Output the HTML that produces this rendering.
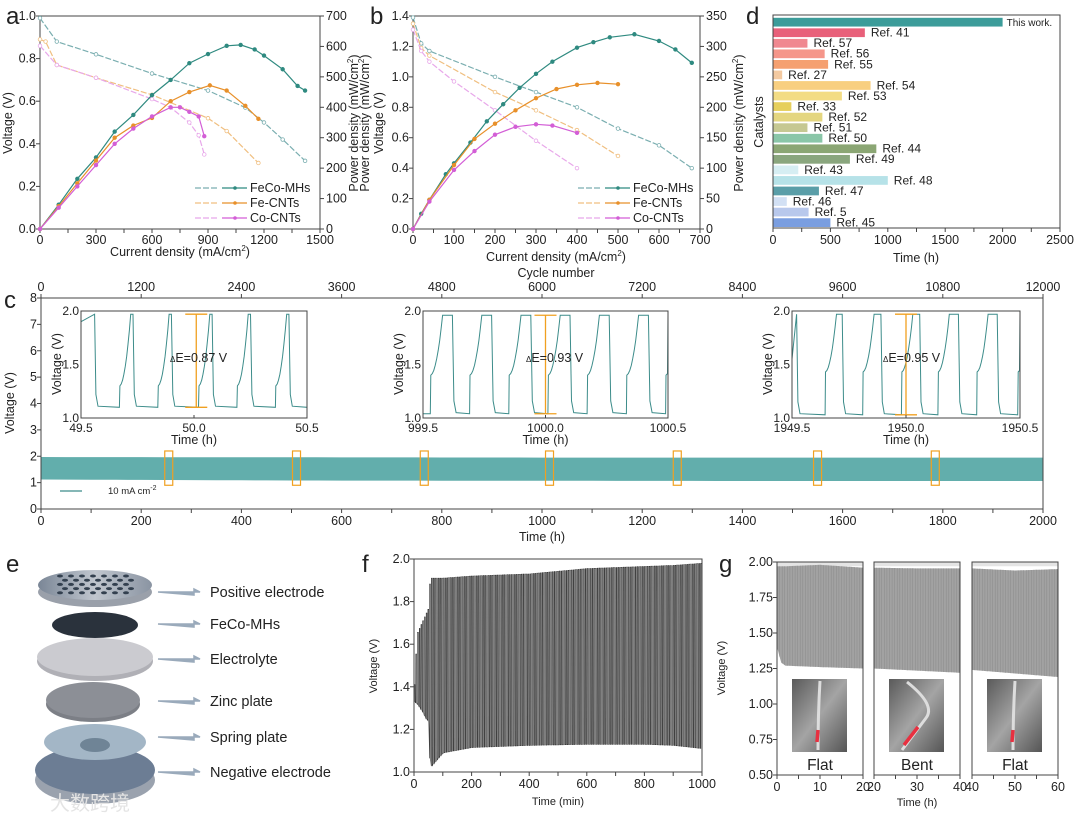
<!DOCTYPE html>
<html><head><meta charset="utf-8">
<style>
html,body{margin:0;padding:0;background:#fff;}
svg{display:block;font-family:"Liberation Sans","Noto Sans CJK SC",sans-serif;}
text{fill:#222;}
</style></head>
<body>
<svg id="fig" width="1080" height="823" viewBox="0 0 1080 823" xmlns="http://www.w3.org/2000/svg">
<defs>
<linearGradient id="photo" x1="0" x2="1" y1="0" y2="1"><stop offset="0" stop-color="#5a5a5a"/><stop offset="0.5" stop-color="#a4a4a4"/><stop offset="1" stop-color="#555"/></linearGradient>
<linearGradient id="disc" x1="0" x2="1"><stop offset="0" stop-color="#7a8696"/><stop offset="0.5" stop-color="#c0c6ce"/><stop offset="1" stop-color="#8a94a2"/></linearGradient>
</defs>
</svg>
<script>
// ===== Panel a data =====
const aFeCoVx=[0,90,300,600,900,1100,1200,1300,1420];
const aFeCoVy=[0.99,0.88,0.82,0.73,0.65,0.57,0.50,0.42,0.32];
const aFeCoPx=[0,100,200,300,400,500,600,700,800,900,1000,1075,1150,1200,1300,1380,1420];
const aFeCoPy=[0,80,165,235,320,375,440,490,545,575,602,605,590,570,525,470,455];
const aFeVx=[0,30,90,300,600,900,1000,1170];
const aFeVy=[0.89,0.88,0.77,0.71,0.63,0.52,0.46,0.31];
const aFePx=[0,100,200,300,400,500,600,700,800,910,1000,1100,1170];
const aFePy=[0,75,150,225,300,340,365,420,450,472,455,405,362];
const aCoVx=[0,90,300,600,700,800,850,880];
const aCoVy=[0.86,0.77,0.71,0.61,0.57,0.50,0.44,0.35];
const aCoPx=[0,100,200,300,400,500,600,700,750,800,850,880];
const aCoPy=[0,70,140,210,280,330,370,400,400,385,370,305];
// ===== Panel b data =====
const bFeCoVx=[0,20,40,200,300,400,500,600,680];
const bFeCoVy=[1.39,1.22,1.17,1.00,0.90,0.80,0.66,0.55,0.40];
const bFeCoPx=[0,20,40,80,100,140,180,220,260,300,340,400,440,480,540,600,640,680];
const bFeCoPy=[0,25,48,90,108,142,177,205,232,255,275,298,307,315,320,309,295,273];
const bFeVx=[0,20,40,200,300,400,500];
const bFeVy=[1.35,1.19,1.14,0.90,0.78,0.65,0.48];
const bFePx=[0,40,100,150,200,250,300,350,400,450,500];
const bFePy=[0,48,105,148,173,195,215,230,237,240,238];
const bCoVx=[0,20,40,100,200,300,400];
const bCoVy=[1.31,1.17,1.10,0.97,0.78,0.58,0.40];
const bCoPx=[0,40,100,150,200,250,300,340,400];
const bCoPy=[0,45,97,128,155,168,172,170,158];
// ===== Panel d data =====
const dLabels=["This work.","Ref. 41","Ref. 57","Ref. 56","Ref. 55","Ref. 27","Ref. 54","Ref. 53","Ref. 33","Ref. 52","Ref. 51","Ref. 50","Ref. 44","Ref. 49","Ref. 43","Ref. 48","Ref. 47","Ref. 46","Ref. 5","Ref. 45"];
const dValues=[2000,800,300,450,480,80,850,600,160,430,300,430,900,670,220,1000,400,120,310,500];
const dColors=["#3c9c9a","#e8607a","#f08890","#f5968a","#f5a070","#f3c9a0","#f8cf80","#f3dc84","#e6cf5c","#e4d680","#c6c892","#8ac6a8","#8ba674","#8aa67e","#d6eef3","#b6e2e8","#5a9ea8","#d2e0f4","#b8c8ec","#7a9ee0"];
const dTicks=[0,500,1000,1500,2000,2500];
// ===== Panel c data =====
const cBandHours=[0,500,1000,1500,2000];
const cBandHigh=[1.97,1.96,1.95,1.95,1.95];
const cBandLow=[1.12,1.08,1.07,1.06,1.06];
const cBoxHours=[255,510,765,1015,1270,1550,1785];
const cTicks=[0,200,400,600,800,1000,1200,1400,1600,1800,2000];
const cTopTicks=[0,1200,2400,3600,4800,6000,7200,8400,9600,10800,12000];
const cYTicks=[0,1,2,3,4,5,6,7,8];
const in1Rises=[49.67,49.84,50.02,50.19,50.36,50.5];
const in1Falls=[49.56,49.73,49.90,50.08,50.25,50.42];
const in2Rises=[999.53,999.69,999.85,1000.01,1000.17,1000.33,1000.49];
const in2Falls=[999.62,999.78,999.94,1000.10,1000.26,1000.42];
const in3Rises=[1949.645,1949.81,1949.98,1950.14,1950.31,1950.49];
const in3Falls=[1949.52,1949.72,1949.89,1950.06,1950.23,1950.40];
const inDeltaE=["0.87","0.93","0.95"];
// ===== Panel f data =====
const fTimes=[0,10,20,30,40,50,55,100,200,400,600,800,900,1000];
const fUpper=[1.41,1.65,1.68,1.71,1.74,1.77,1.91,1.91,1.92,1.93,1.955,1.965,1.97,1.98];
const fLower=[1.33,1.32,1.30,1.28,1.25,1.24,1.02,1.09,1.115,1.125,1.13,1.13,1.125,1.11];
const fTicksX=[0,200,400,600,800,1000];
const fTicksY=[1.0,1.2,1.4,1.6,1.8,2.0];
// ===== Panel g data =====
const gTimes=[[0,1,2,10,20],[20,30,40],[40,50,60]];
const gLower=[[1.40,1.29,1.27,1.26,1.25],[1.25,1.235,1.22],[1.24,1.215,1.19]];
const gUpper=[[1.97,1.97,1.97,1.98,1.96],[1.96,1.955,1.955],[1.955,1.94,1.95]];
const gStates=["Flat","Bent","Flat"];
const gTicksY=[0.50,0.75,1.00,1.25,1.50,1.75,2.00];

const NS="http://www.w3.org/2000/svg";
const svg=document.getElementById('fig');
function mk(tag,attrs,parent){const e=document.createElementNS(NS,tag);for(const k in attrs)e.setAttribute(k,attrs[k]);(parent||svg).appendChild(e);return e;}
function tx(x,y,s,size,anchor,extra){const e=mk('text',Object.assign({x:x,y:y,'font-size':size,'text-anchor':anchor||'middle'},extra||{}));e.textContent=s;return e;}
function poly(xs,ys,fx,fy){return xs.map((v,i)=>fx(v).toFixed(1)+','+fy(ys[i]).toFixed(1)).join(' ');}
function interp(ts,vs,t){for(let i=1;i<ts.length;i++){if(t<=ts[i]){const r=(t-ts[i-1])/(ts[i]-ts[i-1]);return vs[i-1]+r*(vs[i]-vs[i-1]);}}return vs[vs.length-1];}

[["a",6,24],["b",370,24],["d",746,24],["c",4,308],["e",6,572],["f",362,572],["g",719,572]].forEach(p=>{
 const l=tx(p[1],p[2],p[0],24,'start');
 
 
});

const TS=12.5;
function frame(x0,y0,x1,y1,name){const r=mk('rect',{x:x0,y:y0,width:x1-x0,height:y1-y0,fill:'none',stroke:'#444','stroke-width':1});
 
 
 return r;}
function xTicks(vals,fx,yb,labels,size,dy,up){vals.forEach((v,i)=>{const x=fx(v);
 const t=mk('line',{x1:x,x2:x,y1:yb,y2:yb+(up?-4:4),stroke:'#444'});
 
 
 if(labels){const l=tx(x,yb+dy,labels[i],size);
 
 }});}
function yTicks(vals,fy,xb,labels,size,right){vals.forEach((v,i)=>{const y=fy(v);
 const t=mk('line',{x1:xb,x2:xb+(right?4:-4),y1:y,y2:y,stroke:'#444'});
 
 
 if(labels){const l=tx(right?xb+6:xb-4,y+4,labels[i],size,right?'start':'end');
 
 }});}
function vtitle(x,y,s,size,name){const e=tx(x,y,'',size,'middle',{transform:'rotate(-90 '+x+' '+y+')'});e.innerHTML=s;
 
 return e;}
function htitle(x,y,s,size,name){const e=tx(x,y,'',size);e.innerHTML=s;
 
 return e;}

function series(xs,ys,fx,fy,col,dash,open,name){
 const p=mk('polyline',{points:poly(xs,ys,fx,fy),fill:'none',stroke:col,'stroke-width':1.2,'stroke-dasharray':dash?'6,2':'none'});
 
 
 xs.forEach((v,i)=>{const c=mk('circle',{cx:fx(v),cy:fy(ys[i]),r:1.8,fill:open?'#fff':col,stroke:col,'stroke-width':0.8});
 
 });
}

const FeCoP='#2f8a80',FeCoV='#7aaeb0',FeP='#e8902a',FeV='#f0bf80',CoP='#d35ed6',CoV='#e8a8ea';

// ===== Panel a =====
const ax=x=>40+x/1500*280, ay=v=>229-v*213, ayP=p=>229-p/700*213;
frame(40,16,320,229,'panel-a-plot-frame');
xTicks([0,300,600,900,1200,1500],ax,229,['0','300','600','900','1200','1500'],TS,15);
xTicks([150,450,750,1050,1350],ax,229,null);
yTicks([0,0.2,0.4,0.6,0.8,1.0],ay,40,['0.0','0.2','0.4','0.6','0.8','1.0'],TS);
yTicks([0,100,200,300,400,500,600,700],ayP,320,['0','100','200','300','400','500','600','700'],TS,true);
htitle(180,256,'Current density (mA/cm<tspan font-size="8" dy="-5">2</tspan><tspan dy="5">)</tspan>',12.5,'panel-a-x-title');
vtitle(12,123,'Voltage (V)',12.5,'panel-a-y-title');
vtitle(358,123,'Power density (mW/cm<tspan font-size="8" dy="-5">2</tspan><tspan dy="5">)</tspan>',12.5,'panel-a-y2-title');
series(aFeCoVx,aFeCoVy,ax,ay,FeCoV,true,true,'a-feco-voltage');
series(aFeVx,aFeVy,ax,ay,FeV,true,true,'a-fe-voltage');
series(aCoVx,aCoVy,ax,ay,CoV,true,true,'a-co-voltage');
series(aFeCoPx,aFeCoPy,ax,ayP,FeCoP,false,false,'a-feco-power');
series(aFePx,aFePy,ax,ayP,FeP,false,false,'a-fe-power');
series(aCoPx,aCoPy,ax,ayP,CoP,false,false,'a-co-power');

function legend(x,y,names,colsV,colsP,pref){names.forEach((n,i)=>{const yy=y+i*15;
 const l1=mk('line',{x1:x,x2:x+22,y1:yy,y2:yy,stroke:colsV[i],'stroke-dasharray':'6,2','stroke-width':1.2});
 
 
 const l2=mk('line',{x1:x+27,x2:x+52,y1:yy,y2:yy,stroke:colsP[i],'stroke-width':1.2});
 
 
 const c=mk('circle',{cx:x+40,cy:yy,r:1.8,fill:colsP[i]});
 
 
 const t=tx(x+55,yy+4,n,12.5,'start');
 
 });}
legend(195,188,['FeCo-MHs','Fe-CNTs','Co-CNTs'],[FeCoV,FeV,CoV],[FeCoP,FeP,CoP],'a');

// ===== Panel b =====
const bx=x=>413+x/700*287, by=v=>229-v/1.4*213, byP=p=>229-p/350*213;
frame(413,16,700,229,'panel-b-plot-frame');
xTicks([0,100,200,300,400,500,600,700],bx,229,['0','100','200','300','400','500','600','700'],TS,15);
xTicks([50,150,250,350,450,550,650],bx,229,null);
yTicks([0,0.2,0.4,0.6,0.8,1.0,1.2,1.4],by,413,['0.0','0.2','0.4','0.6','0.8','1.0','1.2','1.4'],TS);
yTicks([0,50,100,150,200,250,300,350],byP,700,['0','50','100','150','200','250','300','350'],TS,true);
htitle(556,261,'Current density (mA/cm<tspan font-size="8" dy="-5">2</tspan><tspan dy="5">)</tspan>',12.5,'panel-b-x-title');
htitle(556,277,'Cycle number',12.5,'panel-c-top-axis-title');
vtitle(369,123,'Power density (mW/cm<tspan font-size="8" dy="-5">2</tspan><tspan dy="5">)</tspan>',12.5,'panel-b-left-overlap-title');
vtitle(383,123,'Voltage (V)',12.5,'panel-b-y-title');
vtitle(743,123,'Power density (mW/cm<tspan font-size="8" dy="-5">2</tspan><tspan dy="5">)</tspan>',12.5,'panel-b-y2-title');
series(bFeCoVx,bFeCoVy,bx,by,FeCoV,true,true,'b-feco-voltage');
series(bFeVx,bFeVy,bx,by,FeV,true,true,'b-fe-voltage');
series(bCoVx,bCoVy,bx,by,CoV,true,true,'b-co-voltage');
series(bFeCoPx,bFeCoPy,bx,byP,FeCoP,false,false,'b-feco-power');
series(bFePx,bFePy,bx,byP,FeP,false,false,'b-fe-power');
series(bCoPx,bCoPy,bx,byP,CoP,false,false,'b-co-power');
legend(578,188,['FeCo-MHs','Fe-CNTs','Co-CNTs'],[FeCoV,FeV,CoV],[FeCoP,FeP,CoP],'b');

// ===== Panel d =====
const dx=t=>773+t/2500*287;
const dTop=17, dPitch=(228-17)/20;
dValues.forEach((v,i)=>{const y=dTop+i*dPitch+0.8;
 const r=mk('rect',{x:dx(0),y:y,width:dx(v)-dx(0),height:dPitch-1.8,fill:dColors[i]});
 
 
 const l=tx(dx(v)+(i==0?4:6),y+dPitch/2+3,dLabels[i],i==0?10:12,'start');
 
 });
frame(773,15,1060,228,'panel-d-plot-frame');
xTicks(dTicks,dx,228,dTicks.map(String),TS,16);
xTicks([250,750,1250,1750,2250],dx,228,null);
htitle(916,262,'Time (h)',12.5,'panel-d-x-title');
vtitle(763,122,'Catalysts',12.5,'panel-d-y-title');

// ===== Panel c =====
const cx=t=>41+t/2000*1002, cy=v=>509-v/8*211;
const cyc=n=>41+n/12000*1002;
let up=[],lo=[];
for(let t=0;t<=2000;t+=50){up.push(cx(t).toFixed(1)+','+cy(interp(cBandHours,cBandHigh,t)).toFixed(1));lo.unshift(cx(t).toFixed(1)+','+cy(interp(cBandHours,cBandLow,t)).toFixed(1));}
const band=mk('polygon',{points:up.concat(lo).join(' '),fill:'#62aeac'});


cBoxHours.forEach(h=>{const b=mk('rect',{x:cx(h)-4,y:cy(2.2),width:8,height:cy(0.9)-cy(2.2),fill:'none',stroke:'#f0a020','stroke-width':1.2});
 
 });
frame(41,298,1043,509,'panel-c-plot-frame');
xTicks(cTicks,cx,509,cTicks.map(String),TS,16);
xTicks([100,300,500,700,900,1100,1300,1500,1700,1900],cx,509,null);
cTopTicks.forEach(n=>{const x=cyc(n);
 const t=mk('line',{x1:x,x2:x,y1:298,y2:294,stroke:'#444'});
 
 
 const l=tx(x,291,String(n),TS);
 
 });
yTicks(cYTicks,cy,41,cYTicks.map(String),TS);
htitle(542,541,'Time (h)',12.5,'panel-c-x-title');
vtitle(14,403,'Voltage (V)',12.5,'panel-c-y-title');
const cl=mk('line',{x1:60,x2:82,y1:491,y2:491,stroke:'#3c8c8a','stroke-width':1.2});


htitle(108,494,'10 mA cm<tspan font-size="7" dy="-4">-2</tspan>',9.5,'panel-c-legend-entry').setAttribute('text-anchor','start');

function inset(x0,x1,t0,rises,falls,hi,lo,step,startV,dE,barT,txtX,idx,tl){
 const yT=311,yB=418;
 const fx=t=>x0+(t-t0)*(x1-x0), fy=v=>yB-(v-1)*(yB-yT);
 const bg=mk('rect',{x:x0,y:yT,width:x1-x0,height:yB-yT,fill:'#fff'});
 
 
 const ev=[];rises.forEach(r=>ev.push([r,1]));falls.forEach(f=>ev.push([f,0]));ev.sort((a,b)=>a[0]-b[0]);
 let pts=[[t0,startV]];
 ev.forEach(e=>{const t=e[0];if(t>t0+1)return;
  if(e[1]==1){pts.push([t,lo]);pts.push([t+0.002,step]);
   for(let k=1;k<=8;k++){const tt=t+0.002+k*0.006;if(tt>t0+1)break;const f=k/8;pts.push([tt,step+(hi-step)*(f*f*0.9+0.1*f)]);}
   pts.push([Math.min(t+0.06,t0+1),hi]);}
  else{pts.push([t,hi]);pts.push([t+0.006,lo+0.12]);pts.push([t+0.015,lo+0.01]);}});
 pts.push([t0+1,pts[pts.length-1][1]]);
 pts=pts.filter(p=>p[0]<=t0+1);
 const pl=mk('polyline',{points:pts.map(p=>fx(p[0]).toFixed(1)+','+fy(p[1]).toFixed(1)).join(' '),fill:'none',stroke:'#3c8c8a','stroke-width':1});
 
 
 frame(x0,yT,x1,yB,'inset-'+idx+'-frame');
 const bxp=fx(barT);
 const g=mk('path',{d:'M'+bxp+','+fy(hi)+'V'+fy(lo)+'M'+(bxp-11)+','+fy(hi)+'h22M'+(bxp-11)+','+fy(lo)+'h22',stroke:'#f0a020','stroke-width':1.3,fill:'none'});
 
 
 const d=tx(txtX,362,'',12.5,'start');d.innerHTML='<tspan font-size="8">Δ</tspan>E='+dE+' V';
 
 
 [0,0.5,1].forEach((o,i)=>{const x=fx(t0+o);
  const tk=mk('line',{x1:x,x2:x,y1:yB,y2:yB-3,stroke:'#444'});
  
  
  const l=tx(x,yB+14,tl[i],12);
  
  });
 [1.0,1.5,2.0].forEach(v=>{const y=fy(v);
  const l=tx(x0-2,y+4,v.toFixed(1),12,'end');
  
  });
 htitle((x0+x1)/2,444,'Time (h)',12.5,'inset-'+idx+'-x-title');
 vtitle(x0-20,364,'Voltage (V)',12.5,'inset-'+idx+'-y-title');
}
inset(81,307,49.5,in1Rises,in1Falls,1.97,1.1,1.3,1.9,inDeltaE[0],50.01,170,1,['49.5','50.0','50.5']);
inset(423,668,999.5,in2Rises,in2Falls,1.96,1.04,1.4,1.04,inDeltaE[1],1000.0,526,2,['999.5','1000.0','1000.5']);
inset(792,1020,1949.5,in3Rises,in3Falls,1.97,1.03,1.43,1.55,inDeltaE[2],1950.0,883,3,['1949.5','1950.0','1950.5']);

// ===== Panel e =====
function ell(cx_,cy_,rx,ry,fill,name,stroke){const e=mk('ellipse',{cx:cx_,cy:cy_,rx:rx,ry:ry,fill:fill,stroke:stroke||'none'});
 
 return e;}
ell(95,780,60,24,'#9aa2ae','negative-electrode-rim');
ell(95,770,60,24,'#6c7d94','negative-electrode');
ell(95,742,51,18,'#a3b6c6','spring-plate');
ell(95,745,15,7,'#6f8496','spring-plate-hole');
ell(93,704,47,18,'#7c7f86','zinc-plate-edge');
ell(93,700,47,18,'#8c8f96','zinc-plate');
ell(95,661,58,20,'#b0b0b6','electrolyte-edge');
ell(95,657,58,19,'#cbcbd0','electrolyte');
ell(95,625,43,13,'#2a323c','feco-mhs-layer');
ell(95,592,57,15,'#9aa0aa','positive-electrode-edge');
ell(95,585,57,15,'url(#disc)','positive-electrode');
for(let r=0;r<5;r++){for(let k=0;k<7;k++){const x=60+k*11+(r%2)*5,y=576+r*4.2;ell(x,y,3,1.5,'#33404f','electrode-hole');}}
const eLabels=[["Positive electrode",592],["FeCo-MHs",624],["Electrolyte",659],["Zinc plate",701],["Spring plate",737],["Negative electrode",772]];
eLabels.forEach(l=>{const a=mk('path',{d:'M158,'+l[1]+'H200l-6,-3v6z',stroke:'#9aaabb','stroke-width':1.5,fill:'#9aaabb'});
 
 
 const t=tx(210,l[1]+5,l[0],14.5,'start');
 
 });
const wm=tx(50,810,'大数跨境',20,'start',{style:'fill:#e4e4e4'});



// ===== Panel f =====
const fx=t=>414+t*0.288, fy=v=>772-(v-1)*213;
let fp=[];
for(let t=0;t<=1000;t+=6){fp.push(fx(t).toFixed(1)+','+fy(interp(fTimes,fLower,t)).toFixed(1));fp.push(fx(t+0.3).toFixed(1)+','+fy(interp(fTimes,fUpper,t)).toFixed(1));fp.push(fx(t+3).toFixed(1)+','+fy(interp(fTimes,fUpper,t)).toFixed(1));fp.push(fx(t+3.3).toFixed(1)+','+fy(interp(fTimes,fLower,t)).toFixed(1));}
const fl=mk('polyline',{points:fp.join(' '),fill:'none',stroke:'#2a2a2a','stroke-width':0.6});


frame(414,559,702,772,'panel-f-plot-frame');
xTicks(fTicksX,fx,772,fTicksX.map(String),TS,16);
xTicks([100,300,500,700,900],fx,772,null);
yTicks(fTicksY,fy,414,fTicksY.map(v=>v.toFixed(1)),TS);
htitle(558,805,'Time (min)',11,'panel-f-x-title');
vtitle(377,666,'Voltage (V)',11,'panel-f-y-title');

// ===== Panel g =====
const gy=v=>775-(v-0.5)/1.5*213;
const gX=[777,874,972];
gX.forEach((x0,p)=>{const t0=p*20;const gx=t=>x0+(t-t0)/20*86;
 const ts=gTimes[p];
 let u=[],l=[];for(let t=t0;t<=t0+20;t+=0.25){u.push(gx(t).toFixed(1)+','+gy(interp(ts,gUpper[p],t)).toFixed(1));l.unshift(gx(t).toFixed(1)+','+gy(interp(ts,gLower[p],t)).toFixed(1));}
 const top=mk('rect',{x:x0,y:gy(2.0),width:86,height:gy(1.97)-gy(2.0),fill:'#e4e4e4'});
 
 
 const b=mk('polygon',{points:u.concat(l).join(' '),fill:'#a2a2a2'});
 
 
 let ln='';for(let t=t0+0.6;t<t0+20;t+=0.6){const x=gx(t).toFixed(1);ln+='M'+x+','+gy(interp(ts,gUpper[p],t)).toFixed(1)+'V'+gy(interp(ts,gLower[p],t)).toFixed(1);}
 const lp=mk('path',{d:ln,stroke:'#8a8a8a','stroke-width':0.5,fill:'none'});
 
 
 const ph=mk('rect',{x:x0+15,y:679,width:55,height:73,fill:'url(#photo)'});
 
 
 const dev=mk('path',{d:p==1?'M'+(x0+33)+',682 Q'+(x0+62)+',705 '+(x0+52)+',718 L'+(x0+28)+',750':'M'+(x0+43)+',681 Q'+(x0+41)+',715 '+(x0+41)+',750',stroke:'#ddd','stroke-width':3,fill:'none'});
 
 
 const red=mk('path',{d:p==1?'M'+(x0+44)+',727 L'+(x0+30)+',745':'M'+(x0+41)+',730 L'+(x0+40)+',742',stroke:'#e83040','stroke-width':3.5,fill:'none'});
 
 
 const st=tx(x0+43,770,gStates[p],15.5);
 
 
 frame(x0,562,x0+86,775,'panel-g-frame-'+(p+1));
 const ticks=[t0,t0+10,t0+20];
 xTicks(ticks,gx,775,ticks.map(String),TS,16);
 xTicks([t0+5,t0+15],gx,775,null);
});
yTicks(gTicksY,gy,777,gTicksY.map(v=>v.toFixed(2)),TS);
htitle(917,806,'Time (h)',11,'panel-g-x-title');
vtitle(725,668,'Voltage (V)',11,'panel-g-y-title');
</script>
</body></html>
